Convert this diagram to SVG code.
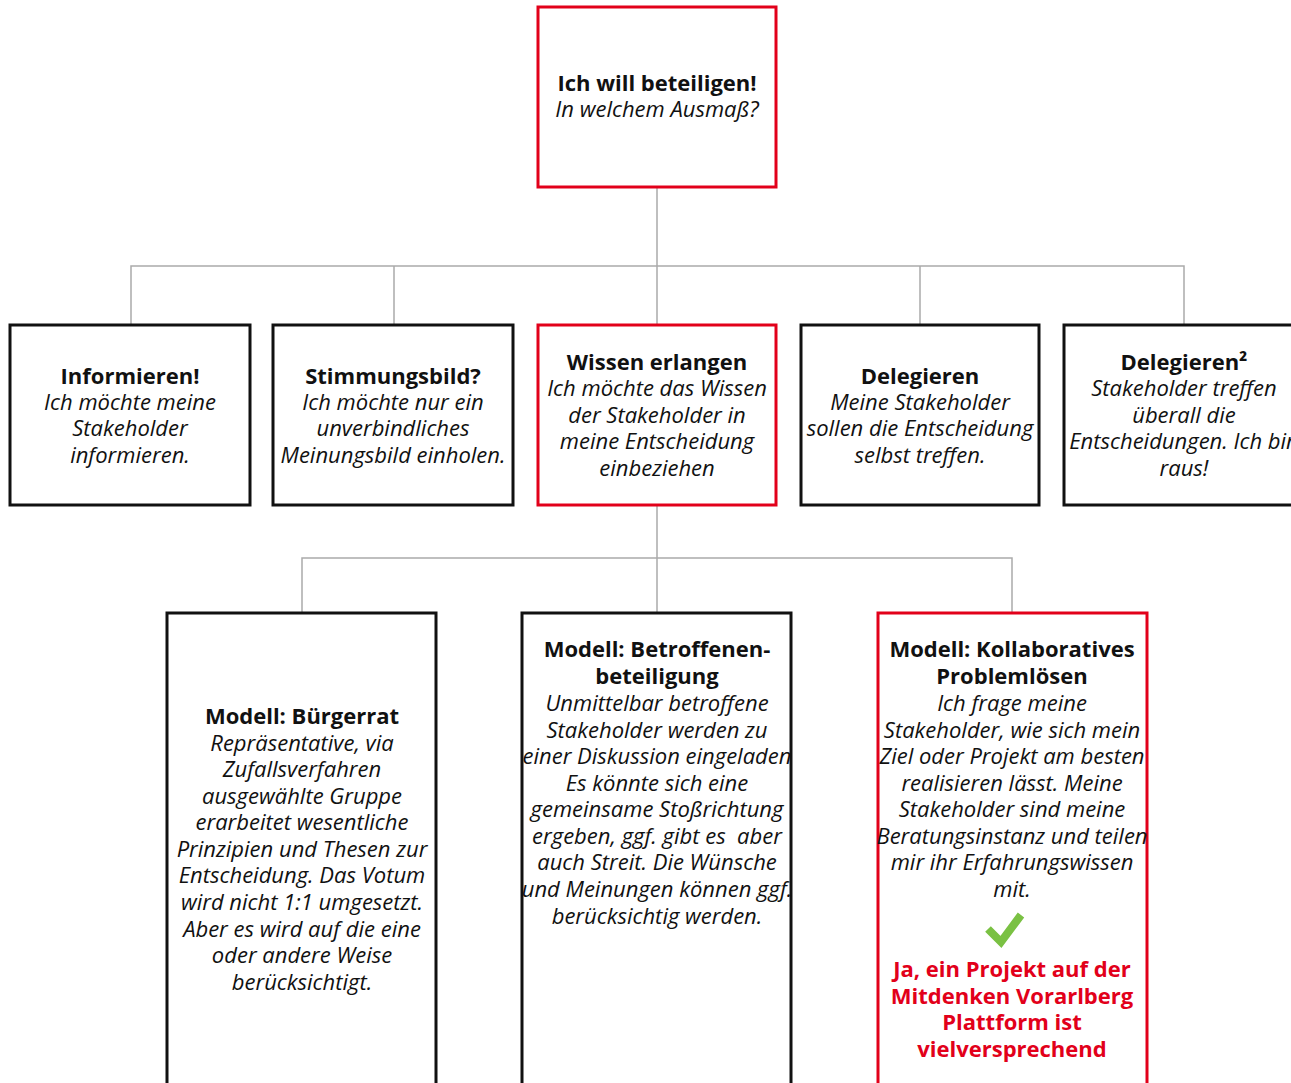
<svg xmlns="http://www.w3.org/2000/svg" width="1291" height="1083" viewBox="0 0 1291 1083">
<style>
.box{fill:#fff;stroke:#111;stroke-width:3}
.red{fill:#fff;stroke:#e2001a;stroke-width:3}
.con{fill:none;stroke:#aaa;stroke-width:1.5}
text{font-family:"Open Sans","Noto Sans",sans-serif;font-size:22px;text-anchor:middle;fill:#111;white-space:pre}
.b{font-weight:bold}
.i{font-style:italic}
.rt{fill:#e2001a;font-weight:bold}
</style>
<rect width="1291" height="1083" fill="#fff"/>
<g id="connectors">
<path class="con" d="M657 187V266M131 325V266H1184V325M394 266V325M657 266V325M920 266V325"/>
<path class="con" d="M657 505V558M302 613V558H1012V613M657 558V613"/>
</g>
<g id="root">
<rect class="red" x="538" y="7" width="238" height="180"/>
<text x="657" y="91" class="b">Ich will beteiligen!</text>
<text x="657" y="117" class="i">In welchem Ausmaß?</text>
</g>
<g id="informieren">
<rect class="box" x="10" y="325" width="240" height="180"/>
<text x="130" y="384" class="b">Informieren!</text>
<text x="130" y="410" class="i">Ich möchte meine</text>
<text x="130" y="436" class="i">Stakeholder</text>
<text x="130" y="463" class="i">informieren.</text>
</g>
<g id="stimmungsbild">
<rect class="box" x="273" y="325" width="240" height="180"/>
<text x="393" y="384" class="b">Stimmungsbild?</text>
<text x="393" y="410" class="i">Ich möchte nur ein</text>
<text x="393" y="436" class="i">unverbindliches</text>
<text x="393" y="463" class="i">Meinungsbild einholen.</text>
</g>
<g id="wissen">
<rect class="red" x="538" y="325" width="238" height="180"/>
<text x="657" y="370" class="b">Wissen erlangen</text>
<text x="657" y="396" class="i">Ich möchte das Wissen</text>
<text x="657" y="423" class="i">der Stakeholder in</text>
<text x="657" y="449" class="i">meine Entscheidung</text>
<text x="657" y="476" class="i">einbeziehen</text>
</g>
<g id="delegieren">
<rect class="box" x="801" y="325" width="238" height="180"/>
<text x="920" y="384" class="b">Delegieren</text>
<text x="920" y="410" class="i">Meine Stakeholder</text>
<text x="920" y="436" class="i">sollen die Entscheidung</text>
<text x="920" y="463" class="i">selbst treffen.</text>
</g>
<g id="delegieren2">
<rect class="box" x="1064" y="325" width="240" height="180"/>
<text x="1184" y="370" class="b">Delegieren²</text>
<text x="1184" y="396" class="i">Stakeholder treffen</text>
<text x="1184" y="423" class="i">überall die</text>
<text x="1184" y="449" class="i">Entscheidungen. Ich bin</text>
<text x="1184" y="476" class="i">raus!</text>
</g>
<g id="buergerrat">
<rect class="box" x="167" y="613" width="269" height="480"/>
<text x="302" y="724" class="b">Modell: Bürgerrat</text>
<text x="302" y="751" class="i">Repräsentative, via</text>
<text x="302" y="777" class="i">Zufallsverfahren</text>
<text x="302" y="804" class="i">ausgewählte Gruppe</text>
<text x="302" y="830" class="i">erarbeitet wesentliche</text>
<text x="302" y="857" class="i">Prinzipien und Thesen zur</text>
<text x="302" y="883" class="i">Entscheidung. Das Votum</text>
<text x="302" y="910" class="i">wird nicht 1:1 umgesetzt.</text>
<text x="302" y="937" class="i">Aber es wird auf die eine</text>
<text x="302" y="963" class="i">oder andere Weise</text>
<text x="302" y="990" class="i">berücksichtigt.</text>
</g>
<g id="betroffene">
<rect class="box" x="522" y="613" width="269" height="480"/>
<text x="657" y="657" class="b">Modell: Betroffenen-</text>
<text x="657" y="684" class="b">beteiligung</text>
<text x="657" y="711" class="i">Unmittelbar betroffene</text>
<text x="657" y="738" class="i">Stakeholder werden zu</text>
<text x="657" y="764" class="i">einer Diskussion eingeladen</text>
<text x="657" y="791" class="i">Es könnte sich eine</text>
<text x="657" y="817" class="i">gemeinsame Stoßrichtung</text>
<text x="657" y="844" class="i">ergeben, ggf. gibt es  aber</text>
<text x="657" y="870" class="i">auch Streit. Die Wünsche</text>
<text x="657" y="897" class="i">und Meinungen können ggf.</text>
<text x="657" y="924" class="i">berücksichtig werden.</text>
</g>
<g id="kollaborativ">
<rect class="red" x="878" y="613" width="269" height="480"/>
<text x="1012" y="657" class="b">Modell: Kollaboratives</text>
<text x="1012" y="684" class="b">Problemlösen</text>
<text x="1012" y="711" class="i">Ich frage meine</text>
<text x="1012" y="738" class="i">Stakeholder, wie sich mein</text>
<text x="1012" y="764" class="i">Ziel oder Projekt am besten</text>
<text x="1012" y="791" class="i">realisieren lässt. Meine</text>
<text x="1012" y="817" class="i">Stakeholder sind meine</text>
<text x="1012" y="844" class="i">Beratungsinstanz und teilen</text>
<text x="1012" y="870" class="i">mir ihr Erfahrungswissen</text>
<text x="1012" y="897" class="i">mit.</text>
<path d="M988 929 L1001 942 L1021 915" fill="none" stroke="#7ac143" stroke-width="8" stroke-linecap="butt" stroke-linejoin="miter"/>
<text x="1012" y="977" class="rt">Ja, ein Projekt auf der</text>
<text x="1012" y="1004" class="rt">Mitdenken Vorarlberg</text>
<text x="1012" y="1030" class="rt">Plattform ist</text>
<text x="1012" y="1057" class="rt">vielversprechend</text>
</g>
</svg>
